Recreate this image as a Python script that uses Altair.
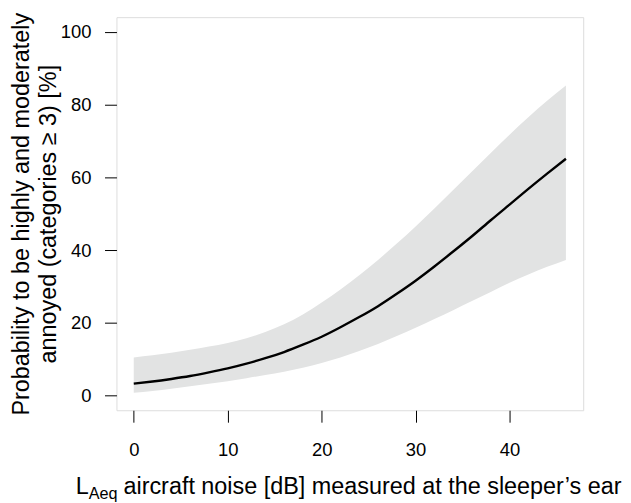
import altair as alt
import pandas as pd

# Data
noise_db = [0, 2, 4, 6, 8, 10, 12, 14, 16, 18, 20, 22, 24, 26, 28, 30, 32, 34, 36, 38, 40, 42, 44, 46]
prob = [3.3, 3.9, 4.6, 5.4, 6.4, 7.5, 8.8, 10.3, 12.0, 14.0, 16.2, 18.8, 21.6, 24.6, 28.0, 31.6,
        35.5, 39.6, 43.8, 48.2, 52.5, 56.8, 61.0, 65.1]
upper = [10.5, 11.1, 11.8, 12.6, 13.5, 14.5, 15.8, 17.5, 19.6, 22.3, 25.6, 29.2, 33.1, 37.3, 41.8,
         46.5, 51.4, 56.5, 61.6, 66.7, 71.7, 76.5, 81.0, 85.2]
lower = [0.8, 1.3, 1.9, 2.6, 3.3, 4.0, 4.8, 5.7, 6.6, 7.7, 9.0, 10.5, 12.3, 14.2, 16.4, 18.7,
         21.1, 23.5, 26.0, 28.5, 31.0, 33.3, 35.4, 37.3]

x_ticks = [0, 10, 20, 30, 40]
y_ticks = [0, 20, 40, 60, 80, 100]
y_title = ["Probability to be highly and moderately", "annoyed (categories \u2265 3) [%]"]
x_title_main = "L"
x_title_sub = "Aeq"
x_title_rest = "aircraft noise [dB] measured at the sleeper\u2019s ear"

df = pd.DataFrame({"x": noise_db, "p": prob, "hi": upper, "lo": lower})

FONT = "Liberation Sans"
W, H = 469, 395

xscale = alt.Scale(domain=[-1.84, 47.84], nice=False, zero=False)
yscale = alt.Scale(domain=[-4, 104], nice=False, zero=False)

xaxis = alt.Axis(values=x_ticks, domain=False, grid=False, tickSize=12, tickColor="black",
                 tickWidth=1, labelFont=FONT, labelFontSize=18.5, labelColor="black",
                 labelPadding=18, title=None, labelFlush=False)
yaxis = alt.Axis(values=y_ticks, domain=False, grid=False, tickSize=12, tickColor="black",
                 tickWidth=1, labelFont=FONT, labelFontSize=18.5, labelColor="black",
                 labelPadding=13.5, labelFlush=False,
                 title=y_title, titleFont=FONT, titleFontSize=23.5, titleFontWeight="normal",
                 titleColor="black", titleAngle=270, titleBaseline="alphabetic",
                 titleAlign="center", titleX=-88, titleY=H / 2, titleLineHeight=26.5)

base = alt.Chart(df)
band = base.mark_area(color="#e2e3e3", interpolate="natural").encode(
    x=alt.X("x:Q", scale=xscale, axis=xaxis),
    y=alt.Y("lo:Q", scale=yscale, axis=yaxis),
    y2="hi:Q",
)
line = base.mark_line(color="black", strokeWidth=2.4, interpolate="natural").encode(
    x=alt.X("x:Q", scale=xscale),
    y=alt.Y("p:Q", scale=yscale),
)

one = pd.DataFrame({"t": [0]})
t_main = alt.Chart(one).mark_text(font=FONT, fontSize=23.5, color="black", align="left",
                                  baseline="alphabetic", text=x_title_main).encode(
    x=alt.value(-41), y=alt.value(479))
t_sub = alt.Chart(one).mark_text(font=FONT, fontSize=16.3, color="black", align="left",
                                 baseline="alphabetic", text=x_title_sub).encode(
    x=alt.value(-27.9), y=alt.value(484))
t_rest = alt.Chart(one).mark_text(font=FONT, fontSize=23.5, color="black", align="left",
                                  baseline="alphabetic", text=x_title_rest).encode(
    x=alt.value(7), y=alt.value(479))

chart = alt.layer(band, line, t_main, t_sub, t_rest).properties(
    width=W, height=H,
    autosize=alt.AutoSizeParams(type="none"),
    padding={"left": 109, "top": 8, "right": 40, "bottom": 92},
).configure_view(stroke="black", strokeWidth=1).configure(background="white")

chart.save("out.html", embed_options={"renderer": "svg", "actions": False})
